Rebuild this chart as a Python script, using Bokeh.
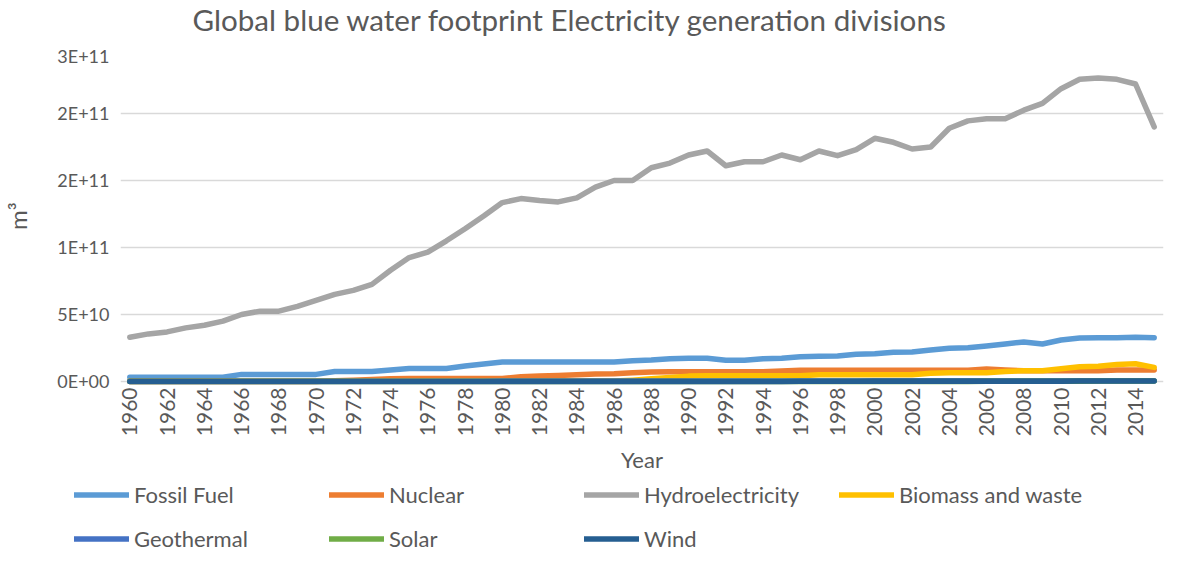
from math import pi
from bokeh.plotting import figure
from bokeh.layouts import column
from bokeh.models import FixedTicker, Legend, LegendItem, Range1d, Label
from bokeh.embed import file_html
from bokeh.resources import INLINE

# ---------------- data (values in billions of m3) ----------------
years = list(range(1960, 2016))

fossil_fuel = [3.2, 3.2, 3.2, 3.2, 3.2, 3.2, 5.3, 5.3, 5.3, 5.3,
               5.3, 7.4, 7.4, 7.4, 8.5, 9.7, 9.7, 9.7, 11.5, 13.0,
               14.5, 14.5, 14.5, 14.5, 14.5, 14.5, 14.5, 15.5, 16.0, 17.0,
               17.4, 17.4, 15.8, 15.8, 17.0, 17.4, 18.5, 18.8, 19.0, 20.3,
               20.7, 21.8, 22.0, 23.5, 24.8, 25.2, 26.5, 28.0, 29.5, 28.0,
               31.0, 32.5, 32.7, 32.7, 33.0, 32.7]

nuclear = [0.0, 0.0, 0.0, 0.0, 0.0, 0.0, 0.0, 0.0, 0.0, 0.0,
           0.0, 0.5, 1.0, 1.5, 2.0, 2.3, 2.3, 2.3, 2.3, 2.3,
           2.3, 3.5, 4.0, 4.5, 5.0, 5.5, 5.8, 6.5, 7.0, 7.2,
           7.2, 7.2, 7.2, 7.2, 7.2, 7.8, 8.4, 8.4, 8.4, 8.4,
           8.4, 8.4, 8.4, 8.4, 8.4, 8.4, 9.3, 8.5, 8.0, 8.0,
           8.0, 8.0, 8.0, 8.6, 8.6, 8.6]

hydroelectricity = [33.0, 35.5, 37.0, 40.0, 42.0, 45.0, 50.0, 52.5, 52.5, 56.0,
                    60.5, 65.0, 68.0, 72.5, 83.0, 92.5, 96.5, 105.0, 114.0, 123.5,
                    133.5, 136.5, 135.0, 134.0, 137.0, 145.0, 150.0, 150.0, 159.5, 163.0,
                    169.0, 172.0, 161.0, 164.0, 164.0, 169.0, 165.5, 172.0, 168.5, 173.0,
                    181.5, 178.5, 173.5, 175.0, 189.0, 194.5, 196.0, 196.0, 202.5, 207.5,
                    218.5, 225.5, 226.5, 225.5, 222.0, 190.0]

biomass_and_waste = [0.3, 0.3, 0.3, 0.3, 0.3, 0.3, 0.3, 0.3, 0.3, 0.3,
                     0.3, 0.3, 0.3, 0.3, 0.3, 0.3, 0.3, 0.3, 0.3, 0.3,
                     0.3, 0.3, 0.3, 0.3, 0.3, 0.3, 0.3, 1.0, 2.0, 3.0,
                     4.0, 4.2, 4.2, 4.2, 4.2, 4.2, 4.2, 5.0, 5.0, 5.0,
                     5.0, 5.0, 5.0, 6.2, 6.6, 6.6, 6.6, 7.5, 8.0, 8.0,
                     9.5, 11.0, 11.3, 12.6, 13.2, 10.5]

geothermal = [0.1, 0.1, 0.1, 0.1, 0.1, 0.1, 0.1, 0.1, 0.1, 0.1,
              0.1, 0.1, 0.1, 0.1, 0.1, 0.1, 0.1, 0.1, 0.1, 0.1,
              0.3, 0.3, 0.3, 0.3, 0.3, 0.3, 0.3, 0.3, 0.3, 0.3,
              0.3, 0.3, 0.3, 0.3, 0.3, 0.3, 0.3, 0.3, 0.3, 0.3,
              0.5, 0.5, 0.5, 0.5, 0.5, 0.5, 0.5, 0.5, 0.5, 0.5,
              0.5, 0.5, 0.5, 0.5, 0.5, 0.5]

solar = [0.0, 0.0, 0.0, 0.0, 0.0, 0.0, 0.0, 0.0, 0.0, 0.0,
         0.0, 0.0, 0.0, 0.0, 0.0, 0.0, 0.0, 0.0, 0.0, 0.0,
         0.0, 0.0, 0.0, 0.0, 0.0, 0.0, 0.0, 0.0, 0.0, 0.0,
         0.0, 0.0, 0.0, 0.0, 0.0, 0.0, 0.0, 0.0, 0.0, 0.0,
         0.0, 0.0, 0.0, 0.0, 0.0, 0.0, 0.1, 0.1, 0.1, 0.1,
         0.2, 0.2, 0.3, 0.3, 0.4, 0.4]

wind = [0.0, 0.0, 0.0, 0.0, 0.0, 0.0, 0.0, 0.0, 0.0, 0.0,
        0.0, 0.0, 0.0, 0.0, 0.0, 0.0, 0.0, 0.0, 0.0, 0.0,
        0.0, 0.0, 0.0, 0.0, 0.0, 0.0, 0.0, 0.0, 0.0, 0.0,
        0.0, 0.0, 0.0, 0.0, 0.0, 0.0, 0.1, 0.1, 0.1, 0.1,
        0.1, 0.1, 0.1, 0.1, 0.1, 0.1, 0.2, 0.2, 0.2, 0.2,
        0.2, 0.3, 0.3, 0.3, 0.3, 0.3]

series_names = ["Fossil Fuel", "Nuclear", "Hydroelectricity", "Biomass and waste",
                "Geothermal", "Solar", "Wind"]
series_values = [fossil_fuel, nuclear, hydroelectricity, biomass_and_waste,
                 geothermal, solar, wind]
series_colors = ["#5B9BD5", "#ED7D31", "#A5A5A5", "#FFC000",
                 "#4472C4", "#70AD47", "#255E91"]

title_text = "Global blue water footprint Electricity generation divisions"
y_tick_values = [0, 50000000000, 100000000000, 150000000000, 200000000000, 250000000000]
y_tick_labels = ["0E+00", "5E+10", "1E+11", "2E+11", "2E+11", "3E+11"]
x_tick_values = list(range(1960, 2015, 2))

UNIT = 1e9
FONT = "Lato"
TEXT_COLOR = "#595959"
LINE_W = 5.5
W = 1164

# ---------------- title strip ----------------
tf = figure(width=W, height=44, output_backend="svg", toolbar_location=None,
            x_range=Range1d(0, 1), y_range=Range1d(0, 1),
            x_axis_location=None, y_axis_location=None, min_border=0,
            frame_align=False)
tf.title.visible = False
tf.outline_line_color = None
tf.grid.visible = False
tf.add_layout(Label(x=192, y=25, x_units="screen", y_units="screen",
                    text=title_text, text_font=FONT, text_font_size="29.6px",
                    text_color=TEXT_COLOR, text_baseline="alphabetic",
                    text_align="left"))

# ---------------- main chart ----------------
p = figure(width=W, height=435, output_backend="svg", toolbar_location=None,
           x_range=Range1d(1959.5, 2015.5), y_range=Range1d(-3e9, 2.5e11),
           min_border_left=117, min_border_right=1, min_border_top=2,
           min_border_bottom=94, frame_align=False)
p.title.visible = False
p.outline_line_color = None
p.background_fill_color = "white"
p.border_fill_color = "white"

p.xaxis.ticker = FixedTicker(ticks=x_tick_values)
p.xaxis.major_label_orientation = pi / 2
p.xaxis.major_label_text_font = FONT
p.xaxis.major_label_text_font_size = "21px"
p.xaxis.major_label_text_color = TEXT_COLOR
p.xaxis.major_label_standoff = 2
p.xaxis.axis_line_color = None
p.xaxis.major_tick_line_color = None
p.xaxis.minor_tick_line_color = None
p.xaxis.major_tick_out = 0
p.xaxis.major_tick_in = 0
p.xaxis.minor_tick_out = 0
p.xaxis.axis_label = "Year"
p.xaxis.axis_label_text_font = FONT
p.xaxis.axis_label_text_font_size = "22px"
p.xaxis.axis_label_text_font_style = "normal"
p.xaxis.axis_label_text_color = TEXT_COLOR
p.xaxis.axis_label_standoff = 7

p.yaxis.ticker = FixedTicker(ticks=y_tick_values)
p.yaxis.major_label_overrides = dict(zip(y_tick_values, y_tick_labels))
p.yaxis.major_label_text_font = FONT
p.yaxis.major_label_text_font_size = "18px"
p.yaxis.major_label_text_color = TEXT_COLOR
p.yaxis.major_label_standoff = 11
p.yaxis.axis_line_color = None
p.yaxis.major_tick_line_color = None
p.yaxis.minor_tick_line_color = None
p.yaxis.major_tick_out = 0
p.yaxis.major_tick_in = 0
p.yaxis.minor_tick_out = 0
p.yaxis.axis_label = "m³"
p.yaxis.axis_label_text_font = FONT
p.yaxis.axis_label_text_font_size = "24px"
p.yaxis.axis_label_text_font_style = "normal"
p.yaxis.axis_label_text_color = TEXT_COLOR
p.yaxis.axis_label_standoff = 22

p.xgrid.grid_line_color = None
p.ygrid.ticker = FixedTicker(ticks=y_tick_values)
p.ygrid.grid_line_color = "#D9D9D9"
p.ygrid.grid_line_width = 1.5

for vals, col in zip(series_values, series_colors):
    p.line(years, [v * UNIT for v in vals], line_color=col, line_width=LINE_W,
           line_cap="round", line_join="round")

# ---------------- legend strip ----------------
lg = figure(width=W, height=72, output_backend="svg", toolbar_location=None,
            x_range=Range1d(0, 1), y_range=Range1d(0, 1),
            x_axis_location=None, y_axis_location=None, min_border=0,
            frame_align=False)
lg.title.visible = False
lg.outline_line_color = None
lg.grid.visible = False

items = []
for name, vals, col in zip(series_names, series_values, series_colors):
    # same series, outside this strip's ranges: only the legend swatch shows
    r = lg.line(years, [v * UNIT for v in vals], line_color=col,
                line_width=LINE_W, line_cap="round")
    items.append(LegendItem(label=name, renderers=[r]))

legend = Legend(items=items, ncols=4, orientation="horizontal",
                location=(74, -1), glyph_width=55, glyph_height=27,
                label_height=27, label_width=178, label_standoff=5, spacing=17,
                padding=0, margin=0, border_line_color=None,
                background_fill_alpha=0,
                label_text_font=FONT, label_text_font_size="22px",
                label_text_color=TEXT_COLOR)
lg.add_layout(legend, "center")

layout = column(tf, p, lg, spacing=0)
open("out.html", "w").write(file_html(layout, INLINE))
